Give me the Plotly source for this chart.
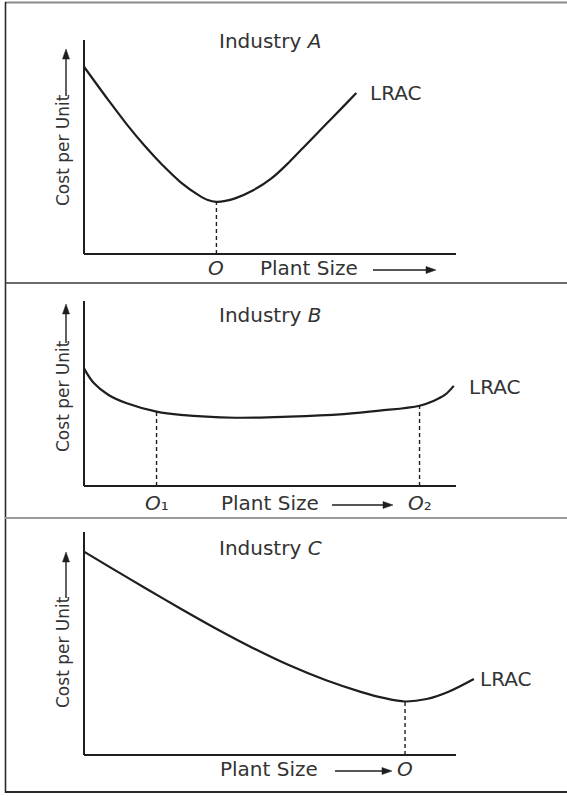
import plotly.graph_objects as go

W, H = 567, 796

# ---------------- data (x = plant size, y = cost per unit, 0-100 scale)
a_x = [0, 6.6, 11.5, 16.3, 21.2, 26.0, 30.9, 33.3, 35.6, 38.0, 40.6, 45.5, 50.3, 55.2, 60.1, 64.9, 69.8, 73.2]
a_y = [87.5, 71.8, 60.6, 50.6, 41.4, 33.5, 27.4, 25.2, 24.4, 24.8, 26.0, 29.8, 35.2, 43.0, 51.8, 60.4, 69.1, 75.2]
a_opt = [35.6]
a_opt_labels = ["<i>O</i>"]

b_x = [0, 2.7, 6.6, 11.5, 19.5, 26.0, 40.6, 55.2, 69.8, 79.5, 90.2, 94.1, 97.0, 99.4]
b_y = [63.6, 55.5, 49.2, 44.7, 40.2, 38.4, 36.9, 37.5, 38.9, 40.7, 43.4, 46.1, 49.2, 54.1]
b_opt = [19.5, 90.2]
b_opt_labels = ["<i>O</i>\u2081", "<i>O</i>\u2082"]

c_x = [0, 6.6, 16.3, 26.0, 35.8, 45.5, 55.2, 64.9, 74.6, 80.5, 86.3, 92.1, 98.0, 104.8]
c_y = [91.2, 84.6, 75.0, 65.6, 56.4, 47.9, 40.2, 33.6, 28.2, 25.6, 24.0, 25.1, 28.4, 34.1]
c_opt = [86.3]
c_opt_labels = ["<i>O</i>"]

titles = ["Industry <i>A</i>", "Industry <i>B</i>", "Industry <i>C</i>"]
curve_label = "LRAC"
y_title = "Cost per Unit"
x_title = "Plant Size"

# ---------------- layout geometry (pixels)
panels = [
    dict(left=84, right=456, bottom=254, top=40, title_y=41, lrac=(368, 93),
         xlab_y=268, xlab_cx=309, arrow=(373, 436), opt_y=268, ylab=(150, 96, 49)),
    dict(left=84, right=456, bottom=486, top=301, title_y=315, lrac=(467, 387),
         xlab_y=503, xlab_cx=270, arrow=(332, 393), opt_y=503, ylab=(396, 343, 304)),
    dict(left=84, right=456, bottom=755, top=532, title_y=548, lrac=(478, 679),
         xlab_y=769, xlab_cx=269, arrow=(335, 392), opt_y=769, ylab=(652, 598, 552)),
]
series = [(a_x, a_y, a_opt, a_opt_labels), (b_x, b_y, b_opt, b_opt_labels), (c_x, c_y, c_opt, c_opt_labels)]

INK = "#1e1e1e"
TXT = "#333333"
FONT = "DejaVu Sans"
FS = 20

def px(x):
    return x / W

def py(y):
    return 1 - y / H

fig = go.Figure()
shapes = []
annotations = []
layout_axes = {}

def arrow_right(x0, x1, y):
    shapes.append(dict(type="line", xref="paper", yref="paper", x0=px(x0), x1=px(x1 - 7),
                       y0=py(y), y1=py(y), line=dict(color=INK, width=1.4)))
    path = "M {a},{b} L {c},{d} L {a},{e} Z".format(a=px(x1 - 10), b=py(y - 3.5), c=px(x1),
                                                   d=py(y), e=py(y + 3.5))
    shapes.append(dict(type="path", xref="paper", yref="paper", path=path,
                       fillcolor=INK, line=dict(color=INK, width=0.5)))

def arrow_up(x, y0, y1):
    shapes.append(dict(type="line", xref="paper", yref="paper", x0=px(x), x1=px(x),
                       y0=py(y0), y1=py(y1 + 7), line=dict(color=INK, width=1.4)))
    path = "M {a},{b} L {c},{d} L {e},{b} Z".format(a=px(x - 3.5), b=py(y1 + 10), c=px(x),
                                                   d=py(y1), e=px(x + 3.5))
    shapes.append(dict(type="path", xref="paper", yref="paper", path=path,
                       fillcolor=INK, line=dict(color=INK, width=0.5)))

for i, (p, (xs, ys, opts, opt_labels)) in enumerate(zip(panels, series)):
    n = "" if i == 0 else str(i + 1)
    xa, ya = "x" + n, "y" + n
    sx = (p["right"] - p["left"]) / 100.0
    sy = (p["bottom"] - p["top"]) / 100.0
    x0p, x1p = 66, 562
    y0p, y1p = p["bottom"] + 10, p["top"] - 6
    layout_axes["xaxis" + n] = dict(domain=[px(x0p), px(x1p)],
                                    range=[(x0p - p["left"]) / sx, (x1p - p["left"]) / sx],
                                    visible=False, anchor=ya, fixedrange=True)
    layout_axes["yaxis" + n] = dict(domain=[py(y0p), py(y1p)],
                                    range=[(p["bottom"] - y0p) / sy, (p["bottom"] - y1p) / sy],
                                    visible=False, anchor=xa, fixedrange=True)
    # axes lines
    shapes.append(dict(type="line", xref=xa, yref=ya, x0=0, x1=100, y0=0, y1=0,
                       line=dict(color=INK, width=2)))
    shapes.append(dict(type="line", xref=xa, yref=ya, x0=0, x1=0, y0=0, y1=100,
                       line=dict(color=INK, width=2)))
    # LRAC curve
    fig.add_trace(go.Scatter(x=xs, y=ys, mode="lines", xaxis=xa, yaxis=ya,
                             line=dict(color=INK, width=2.2, shape="spline", smoothing=1.0),
                             hoverinfo="skip", showlegend=False))
    # optimum dashed drop lines and labels
    for ox, lab in zip(opts, opt_labels):
        oy = ys[xs.index(ox)]
        fig.add_trace(go.Scatter(x=[ox, ox], y=[0, oy], mode="lines", xaxis=xa, yaxis=ya,
                                 line=dict(color=INK, width=1.4, dash="4px,3px"),
                                 hoverinfo="skip", showlegend=False))
        annotations.append(dict(x=ox, y=py(p["opt_y"]), xref=xa, yref="paper", text=lab,
                                showarrow=False, xanchor="center", yanchor="middle",
                                font=dict(family=FONT, size=FS, color=TXT)))
    # title
    annotations.append(dict(x=px(270), y=py(p["title_y"]), xref="paper", yref="paper",
                            text=titles[i], showarrow=False, xanchor="center", yanchor="middle",
                            font=dict(family=FONT, size=FS, color=TXT)))
    # LRAC label
    annotations.append(dict(x=px(p["lrac"][0]), y=py(p["lrac"][1]), xref="paper", yref="paper",
                            text=curve_label, showarrow=False, xanchor="left", yanchor="middle",
                            font=dict(family=FONT, size=FS, color=TXT)))
    # x title + arrow
    annotations.append(dict(x=px(p["xlab_cx"]), y=py(p["xlab_y"]), xref="paper", yref="paper",
                            text=x_title, showarrow=False, xanchor="center", yanchor="middle",
                            font=dict(family=FONT, size=FS, color=TXT)))
    a0, a1 = p["arrow"]
    arrow_right(a0, a1, p["xlab_y"] + 2)
    # y title + arrow
    yc, ya0, ya1 = p["ylab"]
    annotations.append(dict(x=px(63), y=py(yc), xref="paper", yref="paper", text=y_title,
                            textangle=-90, showarrow=False, xanchor="center", yanchor="middle",
                            font=dict(family=FONT, size=17, color=TXT)))
    arrow_up(66, ya0, ya1)

# frame and dividers
shapes += [
    dict(type="line", xref="paper", yref="paper", x0=px(5), x1=1.0, y0=py(2.5), y1=py(2.5),
         line=dict(color="#8a8a8a", width=2)),
    dict(type="line", xref="paper", yref="paper", x0=px(5.5), x1=px(5.5), y0=py(2), y1=py(793),
         line=dict(color="#2a2a2a", width=1.6)),
    dict(type="line", xref="paper", yref="paper", x0=px(5), x1=1.0, y0=py(283), y1=py(283),
         line=dict(color="#3a3a3a", width=1.6)),
    dict(type="line", xref="paper", yref="paper", x0=px(5), x1=1.0, y0=py(518), y1=py(518),
         line=dict(color="#9a9a9a", width=2.2)),
    dict(type="line", xref="paper", yref="paper", x0=px(5), x1=1.0, y0=py(792), y1=py(792),
         line=dict(color="#2a2a2a", width=2)),
]

fig.update_layout(width=W, height=H, margin=dict(l=0, r=0, t=0, b=0),
                  paper_bgcolor="white", plot_bgcolor="rgba(0,0,0,0)",
                  shapes=shapes, annotations=annotations, showlegend=False,
                  **layout_axes)

fig.write_html("out.html", config={"displayModeBar": False},
               post_script="document.body.style.margin='0';document.body.style.overflow='hidden';")
